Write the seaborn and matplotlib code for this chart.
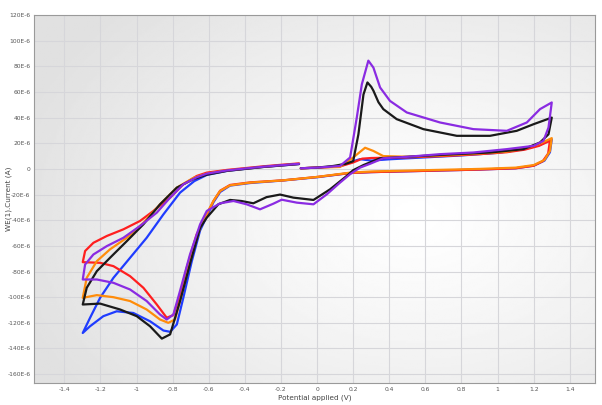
import numpy as np
import pandas as pd
import seaborn as sns
import matplotlib
matplotlib.use("Agg")
import matplotlib.pyplot as plt
from matplotlib.ticker import MultipleLocator, FuncFormatter

# potential (V) / current (uA), each loop
black_E = [-0.09, 0.0, 0.09, 0.16, 0.2, 0.229, 0.257, 0.279, 0.30, 0.312, 0.34, 0.367, 0.441, 0.589, 0.774, 0.958, 1.106, 1.2, 1.30,
           1.282, 1.235, 1.143, 0.958, 0.681, 0.497, 0.349, 0.257, 0.2, 0.164, 0.072, -0.02, -0.131, -0.205, -0.28, -0.353, -0.42, -0.482,
           -0.547, -0.611, -0.648, -0.70, -0.759, -0.814, -0.86, -0.925, -0.999, -1.091, -1.202, -1.298,
           -1.276, -1.22, -1.147, -1.054, -0.962, -0.87, -0.777, -0.685, -0.611, -0.5, -0.4, -0.3, -0.2, -0.1]
black_I = [0.5, 1.0, 2.3, 4, 6, 27, 58, 67.4, 64, 61, 52, 46.6, 38.8, 31, 25.8, 25.8, 29.7, 34.9, 40,
           27, 20.6, 15.4, 12.8, 10.9, 9.4, 8.3, 3, -1, -5.5, -15.9, -24.2, -22.4, -20, -22, -26.8, -25, -24.2,
           -27.6, -38, -46, -72, -103, -129, -132.3, -122.7, -114.8, -109.6, -105, -105.7,
           -92.7, -79.7, -69.3, -56.3, -43.2, -27.6, -14.6, -8, -4.5, -1.5, 0, 1.5, 2.7, 3.8]

purple_E = [-0.09, 0.0, 0.127, 0.183, 0.22, 0.248, 0.284, 0.312, 0.349, 0.404, 0.497, 0.681, 0.866, 1.051, 1.162, 1.235, 1.30,
            1.282, 1.254, 1.2, 1.05, 0.866, 0.681, 0.497, 0.367, 0.294, 0.238, 0.183, 0.127, 0.054, -0.02, -0.112, -0.196, -0.242,
            -0.316, -0.39, -0.463, -0.537, -0.611, -0.648, -0.704, -0.759, -0.796, -0.833, -0.87, -0.944, -1.036, -1.128, -1.22, -1.298,
            -1.285, -1.239, -1.165, -1.073, -0.981, -0.888, -0.814, -0.741, -0.667, -0.611, -0.5, -0.4, -0.3, -0.2, -0.1]
purple_I = [0.5, 1.0, 2.3, 8.9, 40, 66, 84.4, 79, 63.5, 53, 44, 36.2, 31, 29.7, 36.2, 46.6, 51.8,
            32.3, 21.9, 18, 15.4, 12.8, 11.5, 9.4, 8.3, 4, 1, -4.1, -10.7, -19.8, -27.6, -26.3, -24, -27.1,
            -31.5, -27.6, -25, -26.8, -32.8, -43.2, -66.7, -95, -113.5, -117.4, -113.5, -103, -94, -88.8, -86.2, -86.2,
            -74.5, -66.7, -60.2, -53.7, -44.5, -34.1, -22.4, -12, -6.5, -3.7, -1.2, 0.3, 1.7, 2.9, 4]

orange_E = [-0.09, 0.0, 0.127, 0.2, 0.266, 0.312, 0.367, 0.5, 0.7, 0.9, 1.05, 1.15, 1.23, 1.30,
            1.29, 1.26, 1.2, 1.1, 0.9, 0.6, 0.3, 0.183, -0.002, -0.187, -0.371, -0.482, -0.537, -0.574, -0.611, -0.648,
            -0.704, -0.75, -0.787, -0.824, -0.87, -0.944, -1.036, -1.128, -1.22, -1.298,
            -1.276, -1.22, -1.147, -1.054, -0.962, -0.87, -0.777, -0.685, -0.611, -0.5, -0.4, -0.3, -0.2, -0.1]
orange_I = [0.5, 1.0, 1.5, 8.9, 16.5, 14, 10, 9.5, 10.5, 12, 13.5, 16, 19.5, 24,
            14, 7, 3, 1, 0, -1, -2, -2.9, -6.3, -8.9, -10.7, -12.8, -17.2, -25, -35, -46,
            -72, -98, -117.4, -120, -117.4, -109.6, -103, -100, -98.4, -100.5,
            -84.9, -71.9, -62.7, -53.7, -42, -27.6, -14.6, -7, -3.7, -1.3, 0.2, 1.6, 2.8, 4]

red_E = [-0.09, 0.0, 0.127, 0.2, 0.25, 0.3, 0.5, 0.7, 0.9, 1.05, 1.15, 1.23, 1.29,
         1.28, 1.25, 1.2, 1.1, 0.9, 0.6, 0.3, 0.183, -0.002, -0.187, -0.371, -0.482, -0.537, -0.574, -0.611, -0.667,
         -0.722, -0.759, -0.796, -0.833, -0.888, -0.962, -1.036, -1.128, -1.202, -1.298,
         -1.285, -1.239, -1.165, -1.073, -0.981, -0.907, -0.814, -0.741, -0.667, -0.611, -0.5, -0.4, -0.3, -0.2, -0.1]
red_I = [0.5, 1.0, 2, 5, 8, 8.5, 9, 10, 11.5, 13, 15, 18, 22,
         12, 6, 2.5, 0.5, -0.5, -1.5, -2.5, -3.2, -6.3, -8.9, -10.5, -12.5, -17, -25, -35.4, -51,
         -77, -98, -114, -116, -105.7, -92.7, -83.6, -75.8, -73.2, -72.7,
         -64, -57.6, -52.3, -47.1, -40.6, -32.8, -22.4, -12, -5.5, -2.9, -0.8, 0.6, 2, 3.2, 4.3]

blue_E = [-0.09, 0.0, 0.127, 0.2, 0.238, 0.3, 0.4, 0.6, 0.8, 1.0, 1.15, 1.23, 1.30,
          1.29, 1.26, 1.2, 1.1, 0.9, 0.6, 0.3, 0.183, 0.0, -0.187, -0.371, -0.482, -0.537, -0.574, -0.611, -0.648,
          -0.694, -0.741, -0.777, -0.814, -0.851, -0.925, -1.018, -1.11, -1.184, -1.258, -1.298,
          -1.258, -1.202, -1.128, -1.036, -0.944, -0.851, -0.759, -0.68, -0.611, -0.5, -0.4, -0.3, -0.2, -0.1]
blue_I = [0.5, 1.0, 2, 6, 7.6, 6.5, 7.5, 9, 10.5, 12.5, 15.5, 18.5, 23,
          13, 6.5, 2.5, 0.5, -0.5, -1.5, -2.5, -3.2, -6.5, -9, -11, -13, -18, -26, -37, -48,
          -72, -100.5, -121.3, -127, -126, -118.8, -112.3, -111, -114.8, -122.7, -127.9,
          -116.2, -100.5, -84.9, -69.3, -53.7, -35.4, -18.5, -9.5, -4.7, -1.6, 0, 1.5, 2.6, 3.8]

curves = [
    ("blue", blue_E, blue_I, "#1f3cff"),
    ("red", red_E, red_I, "#ff1f1f"),
    ("orange", orange_E, orange_I, "#ff8c0a"),
    ("black", black_E, black_I, "#1a1a1a"),
    ("purple", purple_E, purple_I, "#8a2be2"),
]

sns.set_style("white")
plt.rcParams['font.family'] = ['Liberation Sans Narrow', 'DejaVu Sans']

fig = plt.figure(figsize=(6.02, 4.05), dpi=100)
ax = fig.add_axes([0.0565, 0.054, 0.932, 0.909])

# soft grey-to-white background like the instrument software
gx, gy = np.meshgrid(np.linspace(0, 1, 300), np.linspace(0, 1, 200))
r = np.sqrt(((gx - 0.68) / 0.75) ** 2 + ((gy - 0.45) / 0.8) ** 2)
bg = 1.0 - 0.12 * np.clip(r, 0, 1) ** 1.2
ax.imshow(bg, extent=[0, 1, 0, 1], transform=ax.transAxes, cmap="gray",
          vmin=0, vmax=1, aspect="auto", zorder=0, origin="lower")

for name, E, I, col in curves:
    sns.lineplot(x=np.array(E), y=np.array(I) * 1e-6, sort=False, estimator=None,
                 color=col, lw=1.6, ax=ax, zorder=3)

ax.set_xlim(-1.568, 1.54)
ax.set_ylim(-167e-6, 120e-6)
ax.xaxis.set_major_locator(MultipleLocator(0.2))
ax.xaxis.set_minor_locator(MultipleLocator(0.1))
ax.yaxis.set_major_locator(MultipleLocator(20e-6))
ax.yaxis.set_minor_locator(MultipleLocator(10e-6))


def xfmt(v, pos):
    v = round(v, 1)
    if abs(v) < 1e-9:
        return "0"
    return f"{v:g}"


def yfmt(v, pos):
    n = int(round(v * 1e6))
    return "0" if n == 0 else f"{n}E-6"


ax.xaxis.set_major_formatter(FuncFormatter(xfmt))
ax.yaxis.set_major_formatter(FuncFormatter(yfmt))
ax.grid(True, which="major", color="#d6d6da", lw=0.8, zorder=1)
ax.set_axisbelow(True)
ax.tick_params(which="both", direction="in", colors="#777777", labelcolor="#555555",
               labelsize=4.3, length=3, width=0.6, pad=2.5)
ax.tick_params(which="minor", length=1.8)
for s in ax.spines.values():
    s.set_color("#9a9a9a")
    s.set_linewidth(0.8)

ax.set_xlabel("Potential applied (V)", fontsize=5.2, color="#444444", labelpad=2)
ax.set_ylabel("WE(1).Current (A)", fontsize=5.2, color="#444444")
ax.yaxis.set_label_coords(-0.04, 0.5)

fig.savefig("out.png", dpi=100)
